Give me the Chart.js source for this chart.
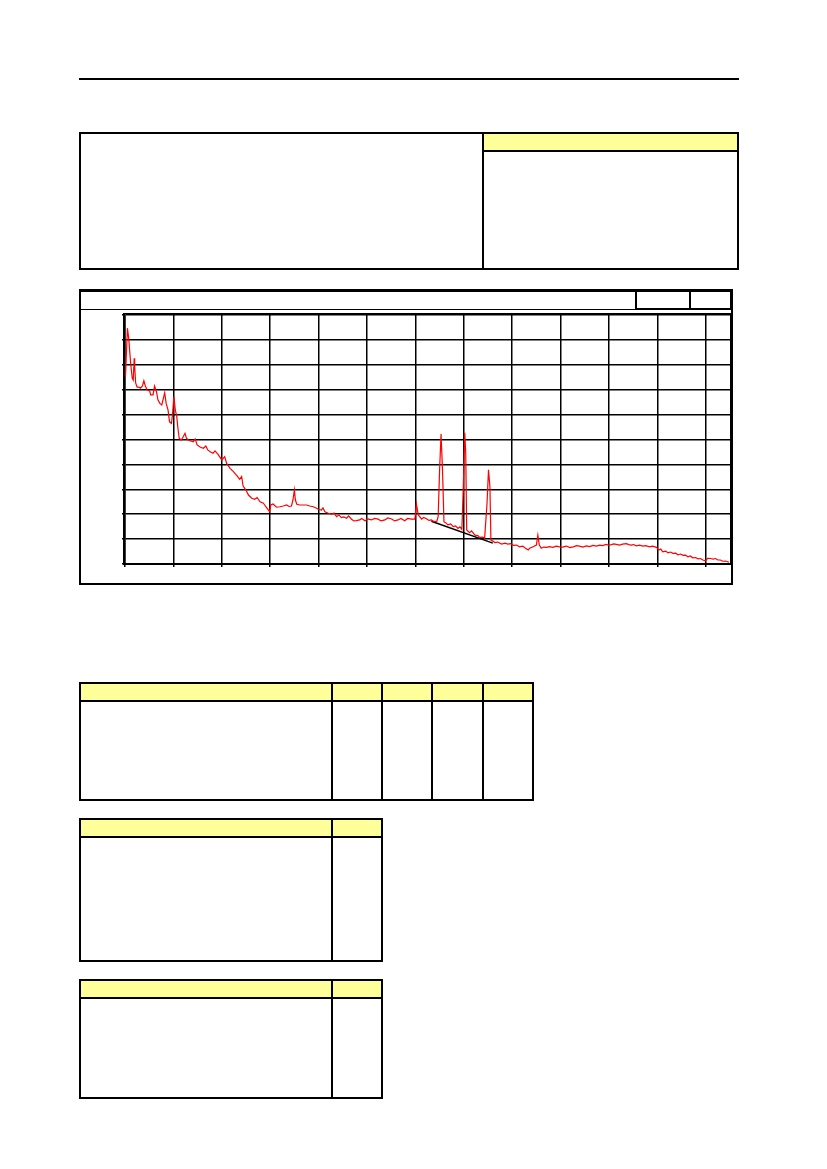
<!DOCTYPE html>
<html>
<head>
<meta charset="utf-8">
<script src="https://cdn.jsdelivr.net/npm/chart.js@4.4.1/dist/chart.umd.min.js"></script>
<style>
  html, body { margin: 0; padding: 0; background: #fff; }
  body { width: 827px; height: 1169px; position: relative; font-family: "Liberation Sans", Arial, sans-serif; }
  .abs { position: absolute; box-sizing: border-box; }
  .frame { border: 2px solid #000; }
  .yellow { background: #ffff99; }
  .vline { background: #000; width: 2px; }
  .hline { background: #000; height: 2px; }
</style>
</head>
<body>
<!-- header rule -->
<div class="abs hline" style="left:79px; top:78px; width:660px;"></div>

<!-- info box -->
<div class="abs frame" style="left:79px; top:132px; width:660px; height:138px;"></div>
<div class="abs yellow" style="left:483px; top:134px; width:254px; height:17px;"></div>
<div class="abs hline" style="left:483px; top:150px; width:255px;"></div>
<div class="abs vline" style="left:482px; top:132px; height:138px;"></div>

<!-- chart box -->
<div class="abs frame" style="left:79px; top:289px; width:654px; height:296px; border-top-width:3px;"></div>
<div class="abs" style="left:79px; top:309px; width:654px; height:0; border-top:1.5px solid #000;"></div>
<div class="abs frame" style="left:635px; top:290px; width:56px; height:20px;"></div>
<div class="abs frame" style="left:689px; top:290px; width:43px; height:20px;"></div>
<div class="abs" style="left:123px; top:313px; width:608px; height:252px; border:1px solid #000;"></div>
<div class="abs" style="left:79px; top:289px; width:654px; height:296px;">
  <canvas id="chromChart" width="654" height="296"></canvas>
</div>

<!-- table 1 -->
<div class="abs yellow" style="left:79px; top:682px; width:454px; height:19px;"></div>
<div class="abs frame" style="left:79px; top:682px; width:455px; height:119px;"></div>
<div class="abs hline" style="left:79px; top:700px; width:455px;"></div>
<div class="abs vline" style="left:331px; top:682px; height:119px;"></div>
<div class="abs vline" style="left:381px; top:682px; height:119px;"></div>
<div class="abs vline" style="left:431px; top:682px; height:119px;"></div>
<div class="abs vline" style="left:482px; top:682px; height:119px;"></div>

<!-- table 2 -->
<div class="abs yellow" style="left:79px; top:818px; width:303px; height:19px;"></div>
<div class="abs frame" style="left:79px; top:818px; width:304px; height:144px;"></div>
<div class="abs hline" style="left:79px; top:836px; width:304px;"></div>
<div class="abs vline" style="left:331px; top:818px; height:144px;"></div>

<!-- table 3 -->
<div class="abs yellow" style="left:79px; top:979px; width:303px; height:19px;"></div>
<div class="abs frame" style="left:79px; top:979px; width:304px; height:120px;"></div>
<div class="abs hline" style="left:79px; top:997px; width:304px;"></div>
<div class="abs vline" style="left:331px; top:979px; height:120px;"></div>

<script>
(function () {
    "use strict";

    // retention time (min) and detector signal
    var timeMin = [
        0.01, 0.05, 0.08, 0.10, 0.12, 0.15, 0.17, 0.19, 0.20, 0.22,
        0.25, 0.29, 0.32, 0.36, 0.39, 0.42, 0.46, 0.51, 0.53, 0.58,
        0.61, 0.65, 0.68, 0.72, 0.76, 0.82, 0.85, 0.89, 0.92, 0.96,
        0.98, 1.01, 1.04, 1.07, 1.09, 1.12, 1.16, 1.20, 1.24, 1.27,
        1.31, 1.34, 1.41, 1.45, 1.49, 1.56, 1.62, 1.67, 1.71, 1.76,
        1.82, 1.86, 1.93, 2.00, 2.06, 2.10, 2.17, 2.24, 2.32, 2.37,
        2.41, 2.44, 2.50, 2.55, 2.62, 2.68, 2.73, 2.79, 2.86, 2.91,
        2.96, 2.99, 3.01, 3.06, 3.13, 3.20, 3.27, 3.34, 3.39, 3.44,
        3.47, 3.50, 3.52, 3.55, 3.61, 3.68, 3.75, 3.82, 3.89, 3.96,
        3.99, 4.06, 4.09, 4.13, 4.20, 4.27, 4.32, 4.37, 4.42, 4.47,
        4.52, 4.58, 4.62, 4.68, 4.73, 4.78, 4.85, 4.89, 4.96, 5.02,
        5.09, 5.16, 5.23, 5.29, 5.37, 5.43, 5.51, 5.57, 5.64, 5.70,
        5.78, 5.84, 5.92, 5.99, 6.02, 6.06, 6.13, 6.17, 6.23, 6.28,
        6.33, 6.38, 6.44, 6.47, 6.50, 6.53, 6.56, 6.59, 6.63, 6.67,
        6.73, 6.78, 6.83, 6.88, 6.92, 6.96, 6.99, 7.02, 7.04, 7.06,
        7.12, 7.16, 7.23, 7.29, 7.33, 7.39, 7.43, 7.48, 7.51, 7.54,
        7.56, 7.60, 7.64, 7.70, 7.78, 7.85, 7.91, 7.97, 8.02, 8.09,
        8.15, 8.22, 8.26, 8.33, 8.36, 8.42, 8.50, 8.53, 8.56, 8.60,
        8.65, 8.71, 8.77, 8.84, 8.91, 8.98, 9.04, 9.12, 9.19, 9.26,
        9.33, 9.39, 9.46, 9.53, 9.60, 9.67, 9.74, 9.81, 9.87, 9.94,
        9.99, 10.05, 10.10, 10.15, 10.22, 10.28, 10.36, 10.41, 10.46, 10.51,
        10.56, 10.63, 10.70, 10.76, 10.84, 10.90, 10.98, 11.03, 11.07, 11.11,
        11.17, 11.22, 11.27, 11.32, 11.38, 11.42, 11.48, 11.53, 11.58, 11.63,
        11.68, 11.73, 11.79, 11.84, 11.89, 11.94, 11.99, 12.04, 12.10, 12.15,
        12.20, 12.25, 12.30, 12.35, 12.41, 12.48
    ];
    var signal = [
        7.52, 9.47, 9.00, 8.47, 7.99, 7.46, 7.39, 8.26, 7.92, 7.27,
        7.10, 7.10, 7.06, 7.15, 7.36, 7.15, 6.99, 6.95, 6.79, 6.79,
        7.15, 6.92, 6.59, 6.45, 6.39, 6.88, 6.45, 6.18, 5.71, 5.65,
        5.98, 6.72, 6.18, 5.92, 5.51, 5.05, 4.98, 5.10, 5.25, 5.05,
        4.98, 4.95, 4.91, 5.02, 4.78, 4.69, 4.65, 4.74, 4.58, 4.51,
        4.45, 4.54, 4.38, 4.18, 4.31, 4.04, 3.84, 3.71, 3.53, 3.40,
        3.51, 3.13, 2.97, 2.77, 2.64, 2.60, 2.67, 2.50, 2.44, 2.30,
        2.17, 2.10, 2.37, 2.41, 2.28, 2.30, 2.33, 2.37, 2.31, 2.33,
        2.57, 2.97, 2.57, 2.40, 2.37, 2.37, 2.37, 2.33, 2.30, 2.24,
        2.20, 2.17, 2.25, 2.10, 2.04, 2.00, 2.05, 1.90, 1.97, 1.86,
        1.89, 1.84, 1.93, 1.80, 1.73, 1.74, 1.77, 1.83, 1.74, 1.81,
        1.77, 1.83, 1.80, 1.73, 1.77, 1.85, 1.81, 1.73, 1.77, 1.83,
        1.74, 1.83, 1.80, 1.80, 2.41, 1.97, 1.80, 1.87, 1.82, 1.75,
        1.77, 1.71, 1.70, 1.90, 3.78, 5.22, 3.78, 1.70, 1.65, 1.57,
        1.61, 1.50, 1.53, 1.43, 1.49, 1.39, 3.10, 5.27, 4.45, 1.37,
        1.26, 1.33, 1.16, 1.14, 1.07, 1.08, 1.03, 2.44, 3.78, 3.10,
        0.96, 0.92, 0.86, 0.88, 0.80, 0.84, 0.80, 0.82, 0.75, 0.76,
        0.69, 0.72, 0.65, 0.56, 0.63, 0.68, 0.76, 1.16, 0.76, 0.63,
        0.68, 0.67, 0.70, 0.67, 0.72, 0.69, 0.68, 0.72, 0.66, 0.69,
        0.74, 0.72, 0.68, 0.73, 0.70, 0.75, 0.72, 0.76, 0.74, 0.79,
        0.76, 0.78, 0.81, 0.79, 0.76, 0.80, 0.82, 0.78, 0.76, 0.78,
        0.73, 0.76, 0.72, 0.74, 0.69, 0.72, 0.67, 0.56, 0.60, 0.49,
        0.52, 0.45, 0.48, 0.43, 0.44, 0.37, 0.40, 0.35, 0.36, 0.29,
        0.32, 0.25, 0.26, 0.21, 0.22, 0.16, 0.13, 0.23, 0.22, 0.20,
        0.22, 0.16, 0.16, 0.11, 0.12, 0.07
    ];

    // drawn baseline under the three main peaks
    var baselineTime = [6.33, 7.60];
    var baselineSignal = [1.72, 0.84];

    // axis grid positions (no tick labels are printed)
    var timeTicks = [0, 1, 2, 3, 4, 5, 6, 7, 8, 9, 10, 11, 12];
    var signalTicks = [0, 1, 2, 3, 4, 5, 6, 7, 8, 9, 10];
    var timeMax = 12.5;
    var signalMax = 10;

    function toPoints(xs, ys) {
        return xs.map(function (x, i) { return { x: x, y: ys[i] }; });
    }

    function fixedTicks(values) {
        return function (scale) {
            scale.ticks = values.map(function (v) { return { value: v }; });
        };
    }

    var ctx = document.getElementById("chromChart");
    var myChart = new Chart(ctx, {
        type: 'line',
        data: {
            datasets: [{
                data: toPoints(timeMin, signal),
                borderColor: "#ff0000",
                borderWidth: 1.2,
                pointRadius: 0,
                tension: 0
            }, {
                data: toPoints(baselineTime, baselineSignal),
                borderColor: "#000000",
                borderWidth: 1.5,
                pointRadius: 0,
                tension: 0
            }]
        },
        options: {
            responsive: false,
            animation: false,
            devicePixelRatio: 1,
            layout: {
                padding: { left: 43, top: 26, right: 3, bottom: 18 }
            },
            plugins: {
                legend: { display: false },
                tooltip: { enabled: false }
            },
            scales: {
                x: {
                    type: 'linear',
                    min: 0,
                    max: timeMax,
                    afterBuildTicks: fixedTicks(timeTicks),
                    ticks: { display: false },
                    grid: { color: "#000", lineWidth: 1.5, tickLength: 3 },
                    border: { color: "#000", width: 1.5 }
                },
                y: {
                    min: 0,
                    max: signalMax,
                    afterBuildTicks: fixedTicks(signalTicks),
                    ticks: { display: false },
                    grid: { color: "#000", lineWidth: 1.5, tickLength: 3 },
                    border: { color: "#000", width: 1.5 }
                }
            }
        }
    });
})();
</script>
</body>
</html>
